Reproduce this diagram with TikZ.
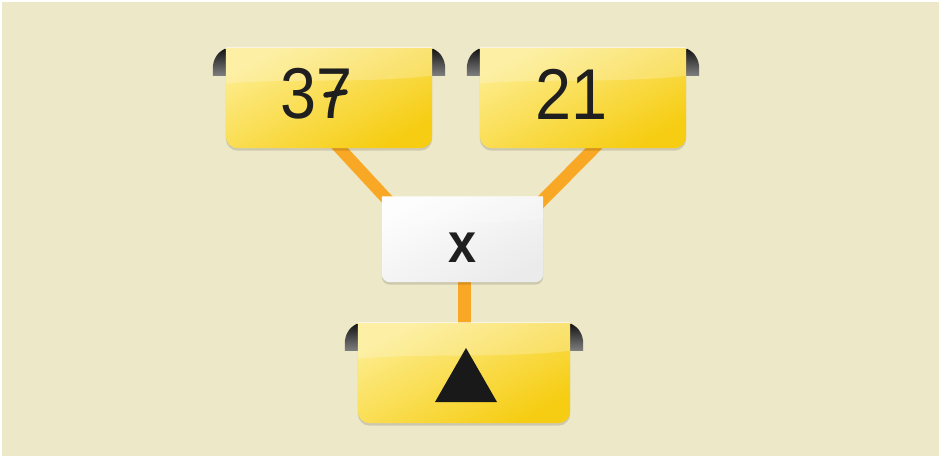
\documentclass[tikz,border=0pt]{standalone}
\usepackage{fontspec}
\newfontfamily\numfont[FakeStretch=0.9]{Liberation Sans}
\usetikzlibrary{calc}
\definecolor{bg}{RGB}{237,232,200}
\definecolor{ylight}{RGB}{253,236,140}
\definecolor{ydark}{RGB}{246,205,18}
\definecolor{connc}{RGB}{248,168,36}
\definecolor{wtop}{RGB}{253,253,253}
\definecolor{wbot}{RGB}{235,235,235}
\newcommand{\tabsof}[1]{%
  \shade[top color=black!92, bottom color=black!50]
    ($(#1.north west)+(3,-2)$) -- ($(#1.north west)+(-1,-1)$)
    .. controls ($(#1.north west)+(-9,-5)$) and ($(#1.north west)+(-13,-12)$) .. ($(#1.north west)+(-13,-21)$)
    -- ($(#1.north west)+(-13,-28)$) -- ($(#1.north west)+(3,-28)$) -- cycle;
  \shade[top color=black!92, bottom color=black!50]
    ($(#1.north east)+(-3,-2)$) -- ($(#1.north east)+(1,-1)$)
    .. controls ($(#1.north east)+(9,-5)$) and ($(#1.north east)+(13,-12)$) .. ($(#1.north east)+(13,-21)$)
    -- ($(#1.north east)+(13,-28)$) -- ($(#1.north east)+(-3,-28)$) -- cycle;
}
\newcommand{\bodyof}[5]{% node, radius, top colour, bottom colour, gloss depth
  \fill[black, opacity=0.13, transform canvas={yshift=-2.5pt}]
    (#1.north west) -- (#1.north east) -- ($(#1.south east)+(0,#2)$)
    arc[start angle=0, end angle=-90, radius=#2] -- ($(#1.south west)+(#2,0)$)
    arc[start angle=270, end angle=180, radius=#2] -- cycle;
  \shade[top color=#3, bottom color=#4, shading angle=28]
    (#1.north west) -- (#1.north east) -- ($(#1.south east)+(0,#2)$)
    arc[start angle=0, end angle=-90, radius=#2] -- ($(#1.south west)+(#2,0)$)
    arc[start angle=270, end angle=180, radius=#2] -- cycle;
  \fill[white, opacity=0.22]
    (#1.north west) -- (#1.north east) -- ($(#1.north east)+(0,-#5+8)$)
    .. controls ($(#1.north)+(30,-#5)$) and ($(#1.north)+(-40,-#5+6)$) .. ($(#1.north west)+(0,-#5)$) -- cycle;
  \draw[white, opacity=0.6, line width=1pt] (#1.north west) -- (#1.north east);
}
\begin{document}
\begin{tikzpicture}[x=1pt, y=1pt,
  boxnode/.style={rectangle, inner sep=0pt, minimum width=206pt, minimum height=100pt},
  numlabel/.style={inner sep=0pt, anchor=base west, text=black!88,
    font=\numfont\fontsize{72}{72}\selectfont},
  connector/.style={line width=12pt, draw=connc},
]
\fill[white] (0,0) rectangle (939,456);
\fill[bg] (1.5,0) rectangle (939,454);
\useasboundingbox (0,0) rectangle (939,456);

\node[boxnode] (A) at (329,358) {};
\node[boxnode] (B) at (583,358) {};
\node[boxnode, minimum width=161pt, minimum height=85pt] (X) at (462.5,216.5) {};
\node[boxnode, minimum width=212pt] (C) at (464,83) {};

\draw[connector] ($(A.south)+(7,4)$) -- ($(X.north)+(-69.5,-9)$);
\draw[connector] ($(B.south)+(15,4)$) -- ($(X.north)+(74.5,-9)$);
\draw[connector, line width=13pt] ($(X.south)+(2,5)$) -- ($(C.north)+(0.5,-5)$);

\tabsof{A}
\tabsof{B}
\tabsof{C}
\bodyof{A}{12}{ylight}{ydark}{36}
\bodyof{B}{12}{ylight}{ydark}{36}
\bodyof{C}{12}{ylight}{ydark}{36}
\bodyof{X}{8}{wtop}{wbot}{30}

\node[numlabel] (t37) at (280.4,337) {37};
\node[numlabel] (t21) at (535,336) {21};
\node[inner sep=0pt, anchor=base, text=black!88,
  font=\numfont\bfseries\fontsize{56}{56}\selectfont] (tx) at (462.5,194) {x};
\draw[black!88, line width=5.5pt, line cap=round] (326,361) -- (345,364);
\fill[black!90] ($(C.center)+(-29,-29)$) -- ($(C.center)+(33,-29)$) -- ($(C.center)+(2,25)$) -- cycle;
\end{tikzpicture}
\end{document}
